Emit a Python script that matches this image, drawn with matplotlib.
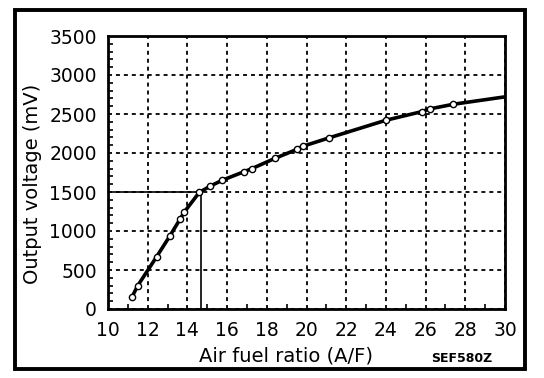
import numpy as np
import matplotlib.pyplot as plt
from matplotlib.patches import Rectangle
from matplotlib.ticker import MultipleLocator

# Datos (relacion aire/combustible vs tension de salida)
af_ratio = [11.2, 11.5, 12.45, 13.1, 13.65, 13.85, 14.6, 15.15, 15.75, 16.85, 17.25,
            18.4, 19.5, 19.8, 21.15, 24.0, 25.8, 26.2, 27.4, 30.0]
voltage = [150, 300, 670, 930, 1160, 1245, 1495, 1575, 1650, 1760, 1800,
           1930, 2045, 2085, 2195, 2420, 2530, 2565, 2625, 2720]
stoich_af = 14.7
stoich_mv = 1500

plt.rcParams['font.family'] = ['DejaVu Sans']

fig = plt.figure(figsize=(5.44, 3.78), dpi=100)
ax = fig.add_axes([108 / 544, 1 - 309 / 378, 397 / 544, 273 / 378])

# marco exterior
fig.patches.append(Rectangle((15 / 544, 1 - 369 / 378), 510 / 544, 359 / 378,
                             transform=fig.transFigure, fill=False, lw=2.8,
                             edgecolor='black', zorder=0))

ax.plot(af_ratio, voltage, '-', color='black', lw=2.6, zorder=3)
ax.plot(af_ratio[:-1], voltage[:-1], 'o', ms=4.5, mfc='white', mec='black',
        mew=1.0, zorder=4)

ax.plot([10, stoich_af], [stoich_mv, stoich_mv], color='black', lw=1.2, zorder=2)
ax.plot([stoich_af, stoich_af], [0, stoich_mv], color='black', lw=1.2, zorder=2)

ax.set_xlim(10, 30)
ax.set_ylim(0, 3500)
ax.xaxis.set_major_locator(MultipleLocator(2))
ax.xaxis.set_minor_locator(MultipleLocator(1))
ax.yaxis.set_major_locator(MultipleLocator(500))
ax.yaxis.set_minor_locator(MultipleLocator(100))
ax.tick_params(which='both', direction='in', color='black')
ax.tick_params(which='major', length=0, labelsize=13.5)
ax.tick_params(axis='x', which='major', pad=9)
ax.tick_params(axis='y', which='major', pad=8)
ax.tick_params(which='minor', length=3.5, width=1.2)
ax.grid(True, which='major', color='black', ls=(0, (2.2, 2.2)), lw=1.3)
for s in ax.spines.values():
    s.set_linewidth(2)

fig.text(286 / 544, 1 - 356 / 378, "Air fuel ratio (A/F)", fontsize=14,
         ha='center', va='center')
fig.text(33 / 544, 1 - 184 / 378, "Output voltage (mV)", fontsize=14,
         ha='center', va='center', rotation=90)
fig.text(462 / 544, 1 - 358 / 378, "SEF580Z", fontsize=9, ha='center',
         va='center', fontweight='bold')

fig.savefig("out.png", dpi=100)
